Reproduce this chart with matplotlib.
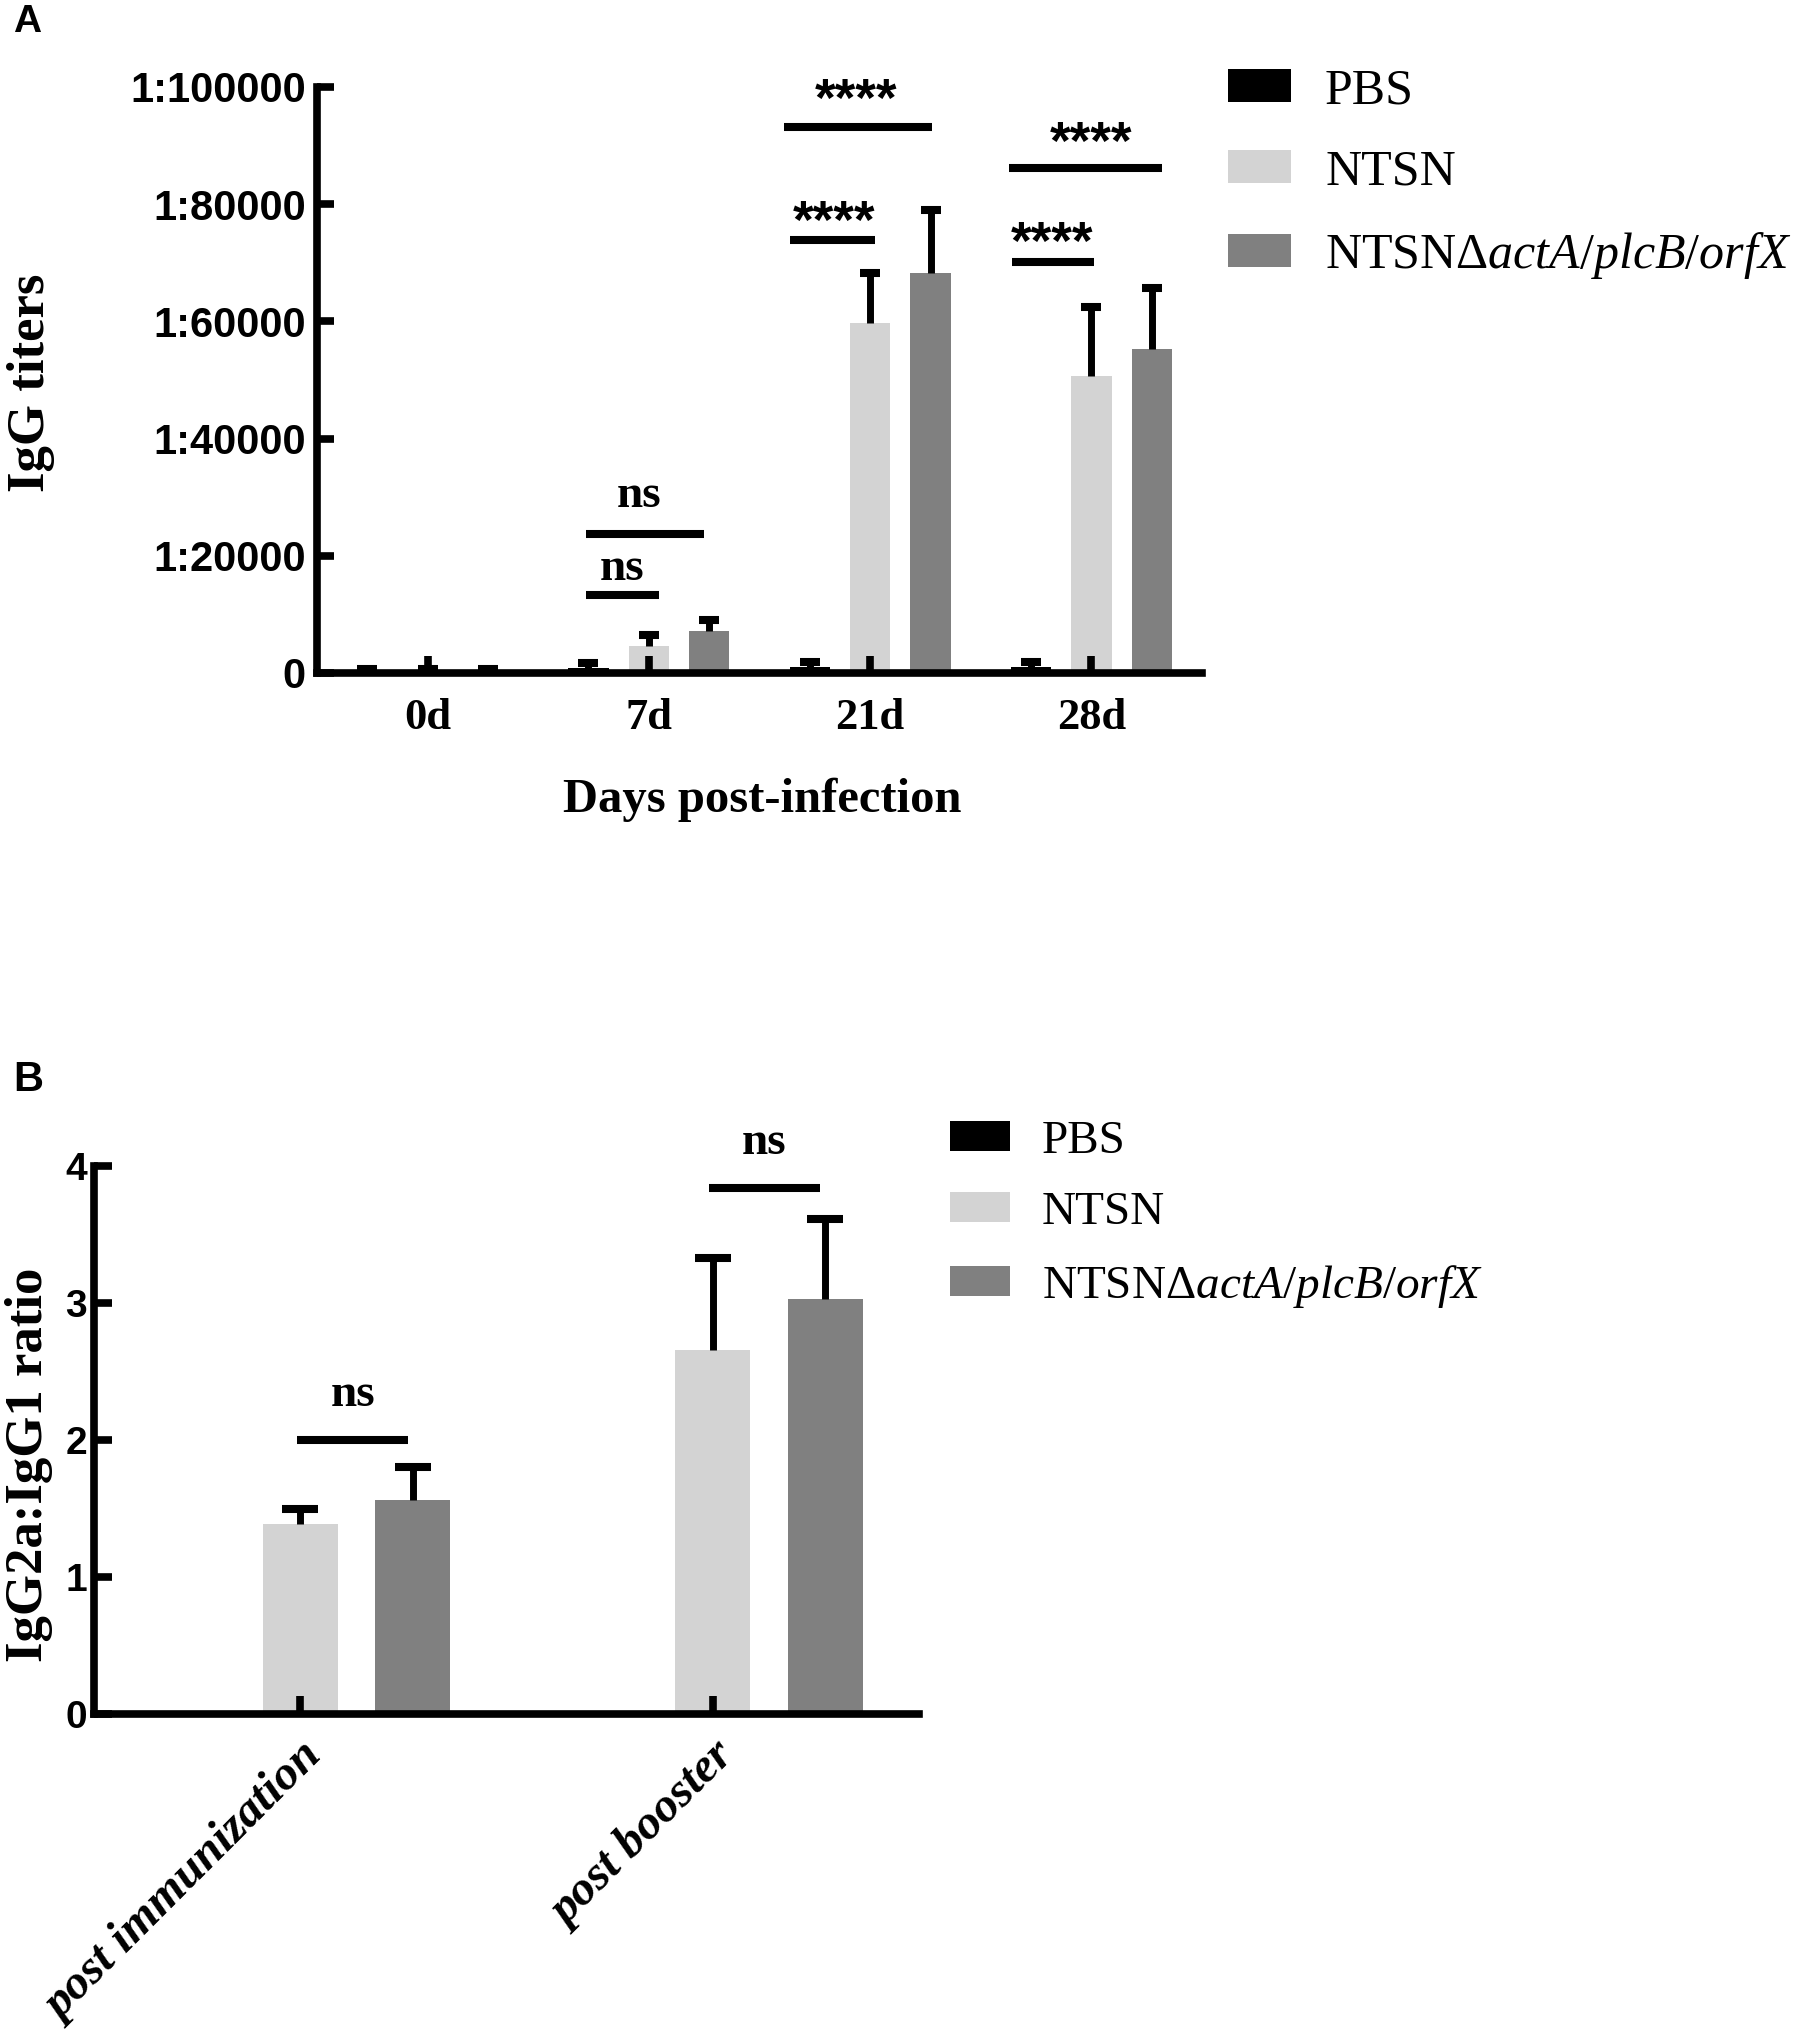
import matplotlib
matplotlib.use('Agg')
import matplotlib.pyplot as plt
import numpy as np
from matplotlib.patches import Patch

plt.rcParams['mathtext.fontset'] = 'custom'
plt.rcParams['mathtext.rm'] = 'Liberation Serif'
plt.rcParams['mathtext.it'] = 'Liberation Serif:italic'

SERIF = 'Liberation Serif'
SANS = 'Liberation Sans'

# ---------------- data ----------------
series_names = ['PBS', 'NTSN', 'NTSN\u0394$\\mathit{actA/plcB/orfX}$']
series_colors = ['#000000', '#d3d3d3', '#808080']

# Panel A: IgG titers
days = ['0d', '7d', '21d', '28d']
pbs_A = [200, 850, 1000, 1000]
pbs_A_err = [400, 850, 900, 900]
ntsn_A = [200, 4600, 59700, 50700]
ntsn_A_err = [400, 1900, 8600, 11800]
mut_A = [200, 7200, 68300, 55300]
mut_A_err = [400, 1850, 10700, 10400]
A_ticks = [0, 20000, 40000, 60000, 80000, 100000]
A_ticklabels = ['0', '1:20000', '1:40000', '1:60000', '1:80000', '1:100000']

sig_A_group = [1, 1, 2, 2, 3, 3]
sig_A_x1 = [-0.286, -0.286, -0.36, -0.39, -0.36, -0.373]
sig_A_x2 = [0.045, 0.25, 0.02, 0.28, 0.014, 0.318]
sig_A_y = [13300, 23700, 73900, 93200, 70100, 86200]
sig_A_label = ['ns', 'ns', '****', '****', '****', '****']
sig_A_label_x = [-0.123, -0.045, -0.164, -0.064, -0.18, 0.0]
sig_A_label_y = [15900, 28300, 74200, 95050, 70650, 87700]

# Panel B: IgG2a:IgG1 ratio
phases = ['post immunization', 'post booster']
pbs_B = [0, 0]
pbs_B_err = [0, 0]
ntsn_B = [1.39, 2.66]
ntsn_B_err = [0.11, 0.67]
mut_B = [1.56, 3.03]
mut_B_err = [0.24, 0.58]
B_ticks = [0, 1, 2, 3, 4]

sig_B_group = [0, 1]
sig_B_x1 = [-0.007, -0.01]
sig_B_x2 = [0.262, 0.26]
sig_B_y = [2.00, 3.84]
sig_B_label = ['ns', 'ns']
sig_B_label_y = [2.25, 4.09]

# ---------------- figure ----------------
W, H = 1810, 2044
fig = plt.figure(figsize=(W / 100, H / 100), dpi=100)

offsets = [-0.273, 0.0, 0.273]
SPINE_LW = 5.5


def style_axes(ax):
    for s in ['top', 'right']:
        ax.spines[s].set_visible(False)
    for s in ['left', 'bottom']:
        ax.spines[s].set_linewidth(SPINE_LW)
        ax.spines[s].set_capstyle('projecting')


def draw_bars(ax, means, errs, capsize_pt, width):
    for i, (m, e, c) in enumerate(zip(means, errs, series_colors)):
        x = np.arange(len(m)) + offsets[i]
        m = np.asarray(m, float)
        e = np.asarray(e, float)
        ax.bar(x, m, width=width, color=c, linewidth=0, zorder=1)
        if np.any(e > 0):
            ax.errorbar(x, m, yerr=[np.zeros_like(e), e], fmt='none',
                        ecolor='black', elinewidth=5, capsize=0, zorder=2)
            ax.plot(x, m + e, linestyle='none', marker='_',
                    markersize=capsize_pt, markeredgewidth=5.8,
                    color='black', zorder=2)


# ---- Panel A ----
axA = fig.add_axes([317 / W, 1 - 673 / H, 885 / W, 586 / H])
style_axes(axA)
draw_bars(axA, [pbs_A, ntsn_A, mut_A], [pbs_A_err, ntsn_A_err, mut_A_err],
          capsize_pt=14.4, width=0.182)
axA.set_xlim(-0.5, len(days) - 0.5)
axA.set_ylim(0, 100000)
axA.set_yticks(A_ticks)
axA.set_yticklabels(A_ticklabels, fontsize=30, fontweight='bold', family=SANS)
axA.set_xticks(np.arange(len(days)))
axA.set_xticklabels(days, fontsize=32, fontweight='bold', family=SERIF)
axA.tick_params(axis='y', direction='in', length=12, width=SPINE_LW, pad=8)
axA.tick_params(axis='x', direction='in', length=12, width=SPINE_LW, pad=18)

for g, x1, x2, y, lab, lx, ly in zip(sig_A_group, sig_A_x1, sig_A_x2, sig_A_y,
                                     sig_A_label, sig_A_label_x, sig_A_label_y):
    axA.plot([g + x1, g + x2], [y, y], color='black', lw=5.8,
             solid_capstyle='butt', zorder=3, clip_on=False)
    if lab == 'ns':
        axA.text(g + lx, ly, lab, ha='center', va='baseline', fontsize=34,
                 fontweight='bold', family=SERIF, clip_on=False)
    else:
        axA.text(g + lx, ly, lab, ha='center', va='baseline', fontsize=38,
                 fontweight='bold', family=SANS, clip_on=False)

axA.set_xlabel('Days post-infection', fontsize=35, fontweight='bold',
               family=SERIF, va='center')
axA.xaxis.set_label_coords(0.503, (673 - 800) / 586)
axA.set_ylabel('IgG titers', fontsize=38, fontweight='bold', family=SERIF,
               va='center')
axA.yaxis.set_label_coords((31 - 317) / 885, (673 - 383) / 586)

handles = [Patch(facecolor=c, edgecolor='none') for c in series_colors]
axA.legend(handles, series_names, loc='upper left',
           bbox_to_anchor=(1228 / W, 1 - 68 / H), bbox_transform=fig.transFigure,
           frameon=False, prop={'family': SERIF, 'size': 36},
           handlelength=1.26, handleheight=0.64, handletextpad=0.68,
           labelspacing=0.69, borderpad=0, borderaxespad=0)

# ---- Panel B ----
axB = fig.add_axes([94 / W, 1 - 1714 / H, 825 / W, 548 / H])
style_axes(axB)
draw_bars(axB, [pbs_B, ntsn_B, mut_B], [pbs_B_err, ntsn_B_err, mut_B_err],
          capsize_pt=26, width=0.182)
axB.set_xlim(-0.5, len(phases) - 0.5)
axB.set_ylim(0, 4)
axB.set_yticks(B_ticks)
axB.set_yticklabels([str(t) for t in B_ticks], fontsize=28, fontweight='bold',
                    family=SANS)
axB.set_xticks(np.arange(len(phases)))
axB.set_xticklabels(phases, fontsize=35, fontweight='bold', fontstyle='italic',
                    family=SERIF, rotation=45, ha='right',
                    rotation_mode='anchor')
axB.tick_params(axis='y', direction='in', length=13, width=SPINE_LW, pad=5)
axB.tick_params(axis='x', direction='in', length=13, width=SPINE_LW, pad=15)

for g, x1, x2, y, lab, ly in zip(sig_B_group, sig_B_x1, sig_B_x2, sig_B_y,
                                 sig_B_label, sig_B_label_y):
    axB.plot([g + x1, g + x2], [y, y], color='black', lw=5.8,
             solid_capstyle='butt', zorder=3, clip_on=False)
    axB.text(g + (x1 + x2) / 2, ly, lab, ha='center', va='baseline',
             fontsize=34, fontweight='bold', family=SERIF, clip_on=False)

axB.set_ylabel('IgG2a:IgG1 ratio', fontsize=38, fontweight='bold',
               family=SERIF, va='center')
axB.yaxis.set_label_coords((29 - 94) / 825, (1714 - 1465) / 548)

axB.legend(handles, series_names, loc='upper left',
           bbox_to_anchor=(950 / W, 1 - 1120 / H), bbox_transform=fig.transFigure,
           frameon=False, prop={'family': SERIF, 'size': 34},
           handlelength=1.28, handleheight=0.6, handletextpad=0.66,
           labelspacing=0.61, borderpad=0, borderaxespad=0)

# panel letters
fig.text(13 / W, 1 - 4 / H, 'A', fontsize=28, fontweight='bold', family=SANS,
         ha='left', va='top')
fig.text(13 / W, 1 - 1060 / H, 'B', fontsize=30, fontweight='bold', family=SANS,
         ha='left', va='top')

fig.savefig('out.png', dpi=100, facecolor='white')
